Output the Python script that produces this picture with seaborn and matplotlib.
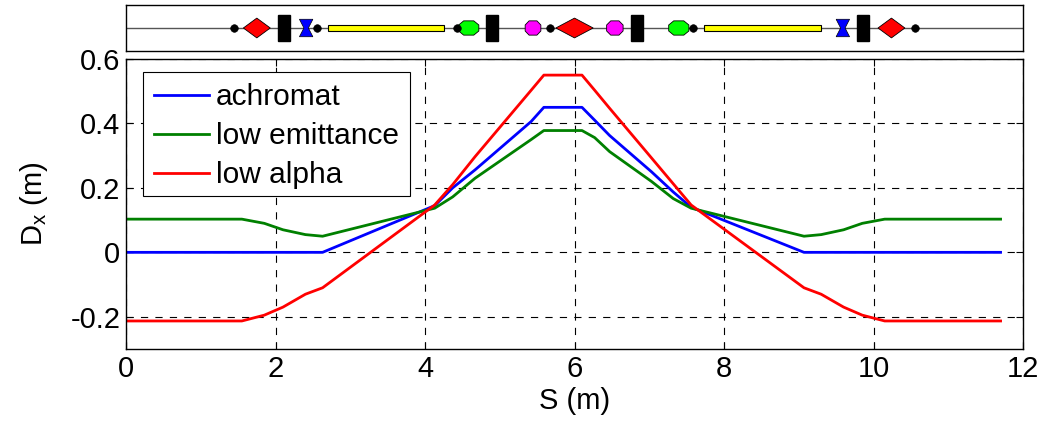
import pandas as pd
import seaborn as sns
import matplotlib.pyplot as plt
from matplotlib.patches import Rectangle

# Dx curves
s = [0, 1.55, 1.85, 2.1, 2.4, 2.63, 4.13, 4.37, 4.67, 5.42, 5.59, 6.1, 6.27, 6.47, 7.03, 7.32, 7.56, 9.07, 9.3, 9.6, 9.85, 10.15, 11.7]
achromat = [0, 0, 0, 0, 0, 0, 0.145, 0.2, 0.256, 0.406, 0.45, 0.45, 0.41, 0.3625, 0.25, 0.1875, 0.14, 0, 0, 0, 0, 0, 0]
low_emittance = [0.103, 0.103, 0.09, 0.07, 0.055, 0.05, 0.137, 0.172, 0.23, 0.35, 0.378, 0.378, 0.356, 0.3125, 0.22, 0.167, 0.137, 0.05, 0.055, 0.07, 0.09, 0.103, 0.103]
low_alpha = [-0.213, -0.213, -0.195, -0.17, -0.13, -0.11, 0.147, 0.21, 0.297, 0.503, 0.55, 0.55, 0.503, 0.447, 0.293, 0.213, 0.147, -0.11, -0.13, -0.17, -0.195, -0.213, -0.213]
series_names = ['achromat', 'low emittance', 'low alpha']
series_colors = ['#0000ff', '#008000', '#ff0000']

# lattice elements, in metres along S
dots = [1.445, 2.55, 4.43, 5.67, 7.58, 10.55]
diamonds = [(1.57, 1.93), (5.75, 6.25), (10.06, 10.42)]
black_boxes = [(2.03, 2.19), (4.82, 4.98), (6.76, 6.92), (9.78, 9.94)]
bowties = [(2.32, 2.50), (9.50, 9.68)]
yellow_boxes = [(2.70, 4.25), (7.73, 9.30)]
green_octs = [(4.45, 4.72), (7.26, 7.53)]
magenta_octs = [(5.34, 5.55), (6.43, 6.65)]

plt.rcParams['font.family'] = ['Liberation Sans', 'DejaVu Sans']
plt.rcParams['mathtext.fontset'] = 'custom'
plt.rcParams['mathtext.rm'] = 'Liberation Sans'
plt.rcParams['mathtext.default'] = 'regular'

W, H = 1057, 423
fig = plt.figure(figsize=(W / 100, H / 100), dpi=100)
ax = fig.add_axes([126 / W, 1 - 349 / H, 897 / W, 290 / H])
top = fig.add_axes([126 / W, 1 - 51 / H, 897 / W, 46 / H])

df = pd.DataFrame({'S': s * 3,
                   'Dx': achromat + low_emittance + low_alpha,
                   'case': [n for n in series_names for _ in s]})
sns.lineplot(data=df, x='S', y='Dx', hue='case', palette=series_colors, hue_order=series_names,
             sort=False, linewidth=2, ax=ax, errorbar=None)

ax.set_xlim(0, 12)
ax.set_ylim(-0.3, 0.6)
ax.set_xticks([0, 2, 4, 6, 8, 10, 12])
ax.set_yticks([-0.2, 0, 0.2, 0.4, 0.6])
ax.set_yticklabels(['-0.2', '0', '0.2', '0.4', '0.6'])
ax.tick_params(direction='in', top=True, right=True, labelsize=21, length=5, width=0.8, pad=4)
ax.grid(True, color='black', linestyle=(0, (6.5, 6.5)), linewidth=0.8)
ax.set_axisbelow(True)
ax.set_xlabel('S (m)', fontsize=21, labelpad=3)
ax.set_ylabel('D$_x$ (m)', fontsize=21, labelpad=15)

# legend box is drawn apart so its height can follow the reference
ax.add_patch(Rectangle((17 / 897, 1 - 137 / 290), 267 / 897, 124 / 290, transform=ax.transAxes,
                       facecolor='white', edgecolor='black', linewidth=0.8, zorder=4.5))
handles, labels = ax.get_legend_handles_labels()
leg = ax.legend(handles, labels, loc='upper left', bbox_to_anchor=(19 / 897, 1 - 15 / 290), fontsize=21.5,
                frameon=False, borderaxespad=0, handlelength=1.85, handletextpad=0.23,
                labelspacing=0.37, borderpad=0.3)

# lattice strip
top.set_xlim(0, 12)
top.set_ylim(-1, 1)
top.set_xticks([])
top.set_yticks([])
top.plot([0, 12], [0, 0], color='#555555', linewidth=1, zorder=1)
for x0, x1 in black_boxes:
    top.add_patch(Rectangle((x0, -0.57), x1 - x0, 1.14, facecolor='black', edgecolor='black', zorder=2))
for x0, x1 in yellow_boxes:
    top.add_patch(Rectangle((x0, -0.14), x1 - x0, 0.28, facecolor='yellow', edgecolor='black', linewidth=0.8, zorder=2))
for x0, x1 in diamonds:
    top.fill([x0, (x0 + x1) / 2, x1, (x0 + x1) / 2], [0, 0.43, 0, -0.43], facecolor='red', edgecolor='black', linewidth=0.6, zorder=3)
for x0, x1 in bowties:
    top.fill([x0, x1, (x0 + x1) / 2 + 0.03, x1, x0, (x0 + x1) / 2 - 0.03], [0.38, 0.38, 0, -0.38, -0.38, 0],
             facecolor='blue', edgecolor='black', linewidth=0.5, zorder=3)
for boxes, col in [(green_octs, 'lime'), (magenta_octs, 'magenta')]:
    for x0, x1 in boxes:
        d = (x1 - x0) * 0.25
        top.fill([x0, x0 + d, x1 - d, x1, x1, x1 - d, x0 + d, x0],
                 [0.13, 0.31, 0.31, 0.13, -0.13, -0.31, -0.31, -0.13],
                 facecolor=col, edgecolor='black', linewidth=0.6, zorder=3)
sns.scatterplot(x=dots, y=[0] * len(dots), color='black', s=30, edgecolor='black', ax=top, zorder=4, legend=False)
top.set_xlim(0, 12)
top.set_ylim(-1, 1)
for sp in list(ax.spines.values()) + list(top.spines.values()):
    sp.set_linewidth(1)

fig.savefig('out.png', dpi=100)
